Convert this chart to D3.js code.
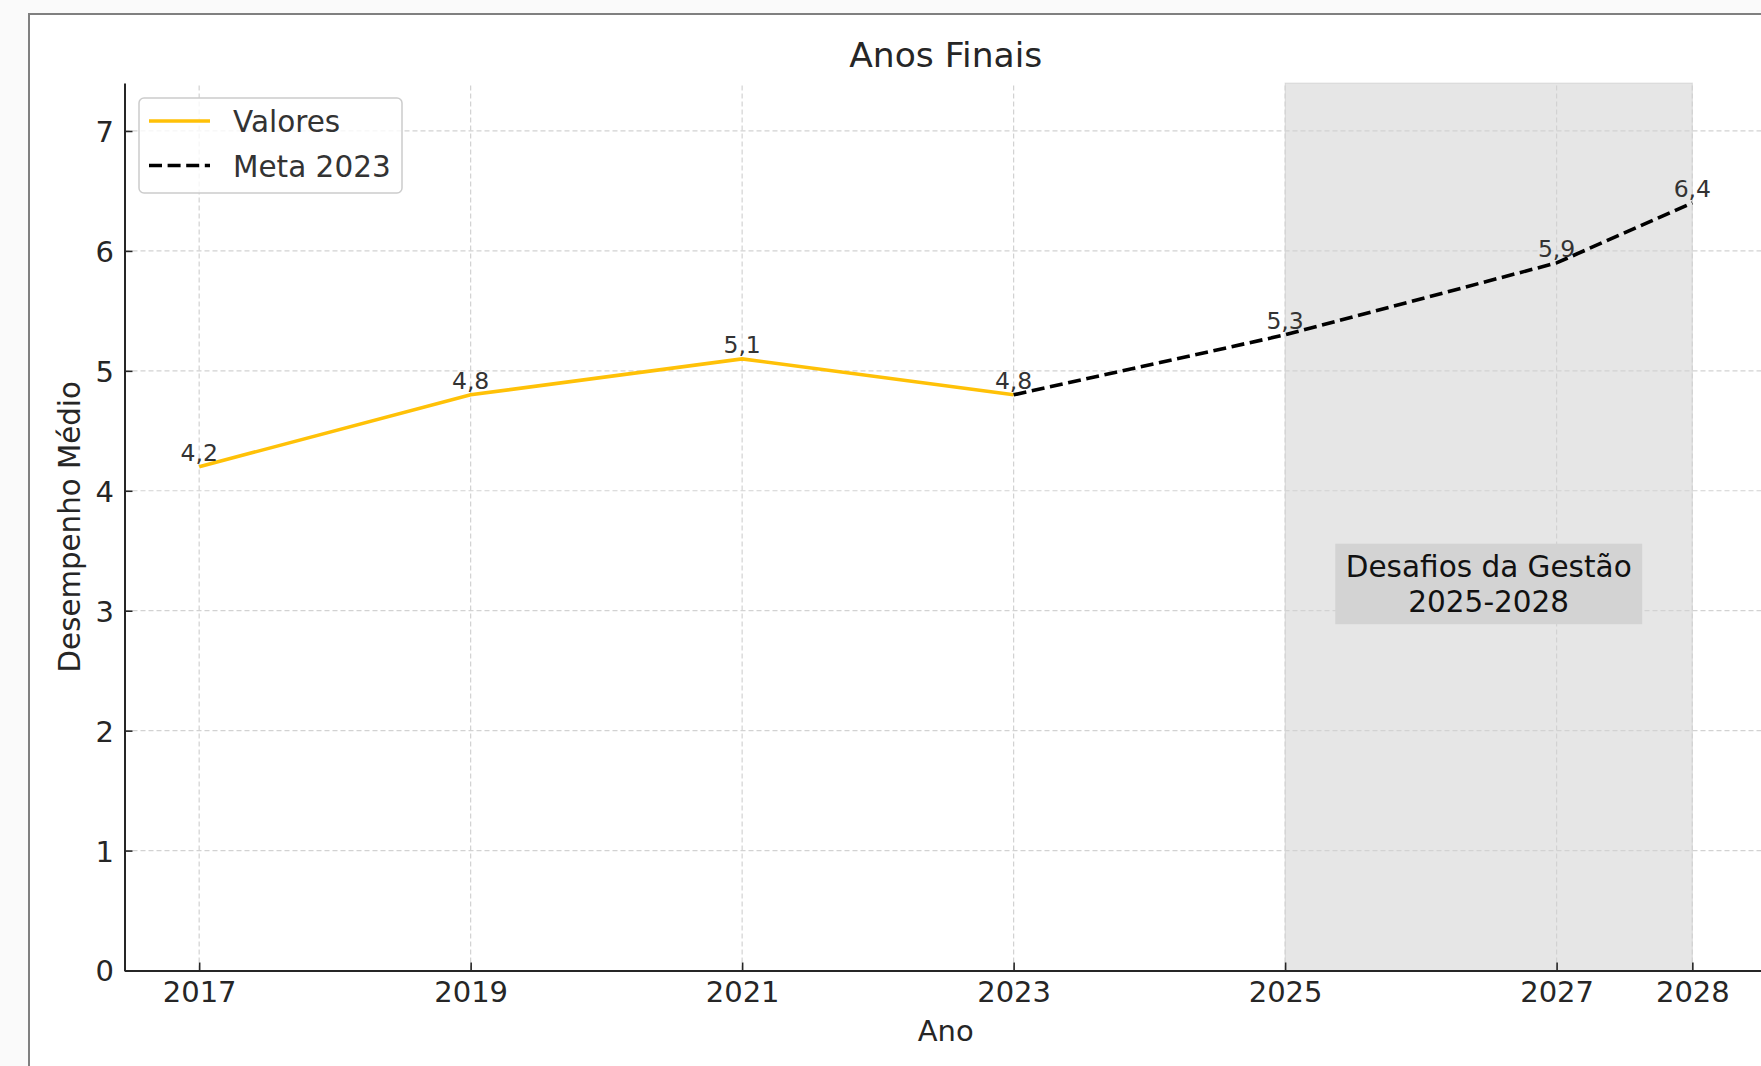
<!DOCTYPE html>
<html>
<head>
<meta charset="utf-8">
<script src="https://cdn.jsdelivr.net/npm/d3@7"></script>
<style>
  body { margin: 0; background: #fafafa; }
  svg { display: block; font-family: "DejaVu Sans", sans-serif; }
</style>
</head>
<body>
<svg id="chart" width="1761" height="1066"></svg>
<script>
// data
const anos = [2017, 2019, 2021, 2023];
const valores = [4.2, 4.8, 5.1, 4.8];
const anosMeta = [2023, 2025, 2027, 2028];
const meta = [4.8, 5.3, 5.9, 6.4];
const xTicks = [2017, 2019, 2021, 2023, 2025, 2027, 2028];
const yTicks = [0, 1, 2, 3, 4, 5, 6, 7];
const periodo = [2025, 2028];
const legendItems = ['Valores', 'Meta 2023'];

const ink = '#262626';
const svg = d3.select('#chart');

// figure frame (the right/bottom edges run off the picture)
svg.append('rect')
  .attr('x', 29).attr('y', 14)
  .attr('width', 1800).attr('height', 1100)
  .attr('fill', '#fff')
  .attr('stroke', '#808080')
  .attr('stroke-width', 2);

let x = d3.scaleLinear().domain([2016.45, 2028.55]).range([124.5, 1767]);
let y = d3.scaleLinear().domain([0, 7.4]).range([970.5, 83]);

// shaded period
svg.append('rect')
  .attr('x', x(periodo[0]))
  .attr('y', y(7.4))
  .attr('width', x(periodo[1]) - x(periodo[0]))
  .attr('height', y(0) - y(7.4))
  .attr('fill', 'rgba(128,128,128,0.2)')
  .attr('stroke', 'rgba(128,128,128,0.2)')
  .attr('stroke-width', 1);

// grid
let grid = svg.append('g')
  .attr('stroke', '#d2d2d2')
  .attr('stroke-width', 1.2)
  .attr('stroke-dasharray', '5,3');
grid.selectAll('line.gx')
  .data(xTicks)
  .enter()
  .append('line')
    .attr('x1', d => x(d)).attr('x2', d => x(d))
    .attr('y1', y(0)).attr('y2', y(7.4));
grid.selectAll('line.gy')
  .data(yTicks.filter(d => d > 0))
  .enter()
  .append('line')
    .attr('y1', d => y(d)).attr('y2', d => y(d))
    .attr('x1', x(2016.45)).attr('x2', x(2028.55));

// axes
let xAxis = svg.append('g')
  .attr('transform', `translate(0,${y(0)})`)
  .call(d3.axisBottom(x)
    .tickValues(xTicks)
    .tickFormat(d3.format('d'))
    .tickSizeInner(-8)
    .tickSizeOuter(0)
    .tickPadding(11));

let yAxis = svg.append('g')
  .attr('transform', `translate(${x(2016.45)},0)`)
  .call(d3.axisLeft(y)
    .tickValues(yTicks)
    .tickSizeInner(-8)
    .tickSizeOuter(0)
    .tickPadding(10.5));

[xAxis, yAxis].forEach(ax => {
  ax.attr('font-family', null).attr('font-size', 29);
  ax.select('.domain').attr('stroke', ink).attr('stroke-width', 2);
  ax.selectAll('.tick line').attr('stroke', ink).attr('stroke-width', 1.6);
  ax.selectAll('.tick text').attr('fill', ink);
});
yAxis.selectAll('.tick text').attr('dy', '0.36em');

// lines
let line = d3.line().x(d => x(d[0])).y(d => y(d[1]));

svg.append('path')
  .datum(d3.zip(anos, valores))
  .attr('d', line)
  .attr('fill', 'none')
  .attr('stroke', '#FFC107')
  .attr('stroke-width', 3.6);

svg.append('path')
  .datum(d3.zip(anosMeta, meta))
  .attr('d', line)
  .attr('fill', 'none')
  .attr('stroke', '#000')
  .attr('stroke-width', 3.6)
  .attr('stroke-dasharray', '13,5.6');

// value labels, decimal comma
let fmt = d3.formatLocale({decimal: ',', thousands: '.', grouping: [3], currency: ['R$', '']}).format('.1f');
let labels = d3.zip(anos, valores).concat(d3.zip(anosMeta, meta).slice(1));
svg.selectAll('text.valor')
  .data(labels)
  .enter()
  .append('text')
    .attr('class', 'valor')
    .attr('x', d => x(d[0]))
    .attr('y', d => y(d[1]) - 6)
    .attr('text-anchor', 'middle')
    .attr('font-size', 23.5)
    .attr('fill', '#333')
    .text(d => fmt(d[1]));

// annotation box
let note = svg.append('g');
let noteText = note.append('text')
  .attr('text-anchor', 'middle')
  .attr('font-size', 29.5)
  .attr('fill', '#111');
noteText.append('tspan')
  .attr('x', x(d3.mean(periodo)))
  .attr('y', y(3.2) - 10)
  .text('Desafios da Gestão');
noteText.append('tspan')
  .attr('x', x(d3.mean(periodo)))
  .attr('y', y(3.2) + 25.5)
  .text('2025-2028');
let bb = noteText.node().getBBox();
note.insert('rect', 'text')
  .attr('x', bb.x - 10.5)
  .attr('y', bb.y - 6)
  .attr('width', bb.width + 21)
  .attr('height', bb.height + 11)
  .attr('fill', '#d3d3d3');

// title and axis labels
svg.append('text')
  .attr('x', x(2022.5)).attr('y', 67)
  .attr('text-anchor', 'middle')
  .attr('font-size', 34.5)
  .attr('fill', ink)
  .text('Anos Finais');

svg.append('text')
  .attr('x', x(2022.5)).attr('y', 1041)
  .attr('text-anchor', 'middle')
  .attr('font-size', 29)
  .attr('fill', ink)
  .text('Ano');

svg.append('text')
  .attr('transform', `translate(80,${(y(0) + y(7.4)) / 2}) rotate(-90)`)
  .attr('text-anchor', 'middle')
  .attr('font-size', 29.3)
  .attr('fill', ink)
  .text('Desempenho Médio');

// legend
let legend = svg.append('g');
legend.append('rect')
  .attr('x', 139).attr('y', 98)
  .attr('width', 263).attr('height', 95)
  .attr('rx', 5)
  .attr('fill', 'rgba(255,255,255,0.8)')
  .attr('stroke', '#cccccc')
  .attr('stroke-width', 1.5);

let rows = legend.selectAll('g.item')
  .data(legendItems)
  .enter()
  .append('g')
    .attr('transform', (d, i) => `translate(0,${121 + i * 44.5})`);
rows.append('line')
  .attr('x1', 149).attr('x2', 210)
  .attr('stroke', (d, i) => i === 0 ? '#FFC107' : '#000')
  .attr('stroke-width', 3.6)
  .attr('stroke-dasharray', (d, i) => i === 0 ? null : '13,5.6');
rows.append('text')
  .attr('x', 233).attr('y', 11)
  .attr('font-size', 29.5)
  .attr('fill', '#333')
  .text(d => d);
</script>
</body>
</html>
